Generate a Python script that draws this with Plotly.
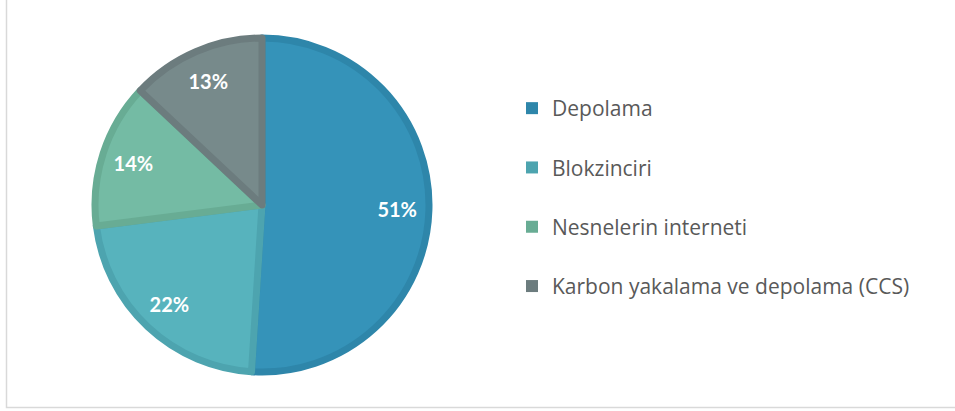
import plotly.graph_objects as go

categories = ["Depolama", "Blokzinciri", "Nesnelerin interneti", "Karbon yakalama ve depolama (CCS)"]
values = [51, 22, 14, 13]
fill_colors = ["#3593B9", "#57B3BD", "#74BBA4", "#778A8B"]
edge_colors = ["#2E86AA", "#4DA4AF", "#68AC94", "#6C7C7E"]

W, H = 955, 411
cx, cy, r = 262, 205, 167

dom = dict(x=[(cx - r) / W, (cx + r) / W], y=[(H - cy - r) / H, (H - cy + r) / H])

fig = go.Figure()
fig.add_trace(go.Pie(
    labels=categories, values=values, sort=False, direction="clockwise", rotation=0,
    marker=dict(colors=fill_colors, line=dict(color=edge_colors, width=7)),
    textinfo="none", showlegend=False, domain=dom,
    hoverinfo="label+percent",
))
# transparent ring used only to place the percentage labels near the rim
fig.add_trace(go.Pie(
    labels=categories, values=values, sort=False, direction="clockwise", rotation=0,
    hole=0.62,
    marker=dict(colors=["rgba(0,0,0,0)"] * 4, line=dict(width=0)),
    texttemplate="%{percent:.0%}", textposition="inside", insidetextorientation="horizontal",
    textfont=dict(family="Lato", size=20, color="white", weight="bold"),
    showlegend=False, domain=dom, hoverinfo="skip",
))
for i, name in enumerate(categories):
    fig.add_trace(go.Scatter(
        x=[None], y=[None], mode="markers", name=name, legendgroup=name,
        marker=dict(symbol="square", size=12, color=edge_colors[i]),
    ))

fig.update_layout(
    width=W, height=H, margin=dict(l=0, r=0, t=0, b=0),
    paper_bgcolor="white", plot_bgcolor="white",
    xaxis=dict(visible=False), yaxis=dict(visible=False),
    legend=dict(x=512 / W, y=1 - 88 / H, xanchor="left", yanchor="top",
                font=dict(family="Open Sans", size=21, color="#595959"),
                tracegroupgap=29, itemwidth=30, bgcolor="rgba(0,0,0,0)"),
    shapes=[dict(type="rect", xref="paper", yref="paper",
                 x0=6.5 / W, x1=1.02, y0=(H - 407.5) / H, y1=1.02,
                 line=dict(color="#D9D9D9", width=1.5))],
)
fig.write_html("out.html", config={"displayModeBar": False},
               post_script="document.body.style.margin='0';")
